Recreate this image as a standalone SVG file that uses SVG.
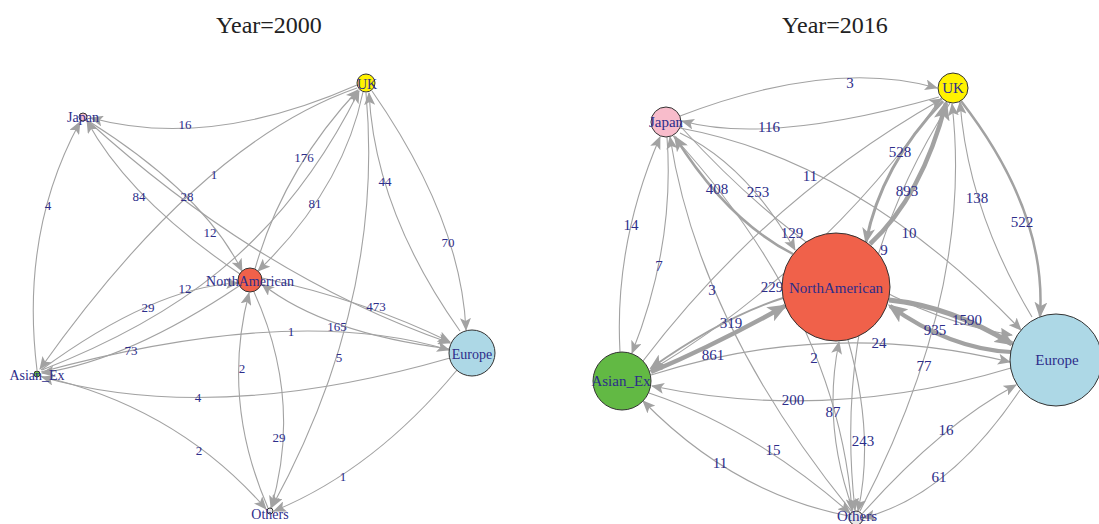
<svg xmlns="http://www.w3.org/2000/svg" width="1099" height="524" viewBox="0 0 1099 524">
<defs>
<style>
.e{fill:none;stroke:#a2a2a2;stroke-width:1.1}
.t1{marker-end:url(#m1)}
.t2{marker-end:url(#m2)}
.t3{marker-end:url(#m3)}
.n{stroke:#333;stroke-width:1}
.title{font-family:"Liberation Serif",serif;font-size:24px;fill:#222;text-anchor:middle}
.l{font-family:"Liberation Serif",serif;font-size:13px;fill:#2d2d8a;text-anchor:middle;dominant-baseline:central}
.r{font-family:"Liberation Serif",serif;font-size:15px;fill:#2d2d8a;text-anchor:middle;dominant-baseline:central}
.nl{font-family:"Liberation Serif",serif;font-size:14px;fill:#2d2d8a;text-anchor:middle;dominant-baseline:central}
.nr{font-family:"Liberation Serif",serif;font-size:15px;fill:#2d2d8a;text-anchor:middle;dominant-baseline:central}
</style>
<marker id="m1" markerUnits="userSpaceOnUse" markerWidth="13" markerHeight="11" refX="12" refY="5.5" orient="auto"><path d="M0,0 L13,5.5 L0,11 L3,5.5 z" fill="#a2a2a2"/></marker>
<marker id="m2" markerUnits="userSpaceOnUse" markerWidth="16" markerHeight="13" refX="14" refY="6.5" orient="auto"><path d="M0,0 L16,6.5 L0,13 L4,6.5 z" fill="#a2a2a2"/></marker>
<marker id="m3" markerUnits="userSpaceOnUse" markerWidth="20" markerHeight="16" refX="17" refY="8" orient="auto"><path d="M0,0 L20,8 L0,16 L4.5,8 z" fill="#a2a2a2"/></marker>
</defs>
<rect width="1099" height="524" fill="#fff"/>
<text class="title" x="269" y="33">Year=2000</text>
<text class="title" x="835" y="33">Year=2016</text>

<g id="connectors-2000">
<path class="e t1" d="M357,85 Q210,150 91,118"/>
<path class="e t1" d="M37,370 Q20,232 80,122"/>
<path class="e t1" d="M240,274 Q130,200 87,121"/>
<path class="e t1" d="M90,122 Q204,194 242,271"/>
<path class="e t1" d="M88,121 Q260,277 450,343"/>
<path class="e t1" d="M262,278 Q364,300 450,342"/>
<path class="e t1" d="M450,349 Q324,333 262,284"/>
<path class="e t1" d="M41,372 Q295,303 449,350"/>
<path class="e t1" d="M450,358 Q214,426 42,377"/>
<path class="e t1" d="M41,370 Q154,287 238,283"/>
<path class="e t1" d="M239,286 Q129,360 42,373"/>
<path class="e t1" d="M42,370 C170,320 280,250 359,91"/>
<path class="e t1" d="M357,88 Q201,142 40,369"/>
<path class="e t1" d="M255,269 Q283,170 358,90"/>
<path class="e t1" d="M363,92 Q343,189 258,271"/>
<path class="e t1" d="M460,331 Q375,211 369,93"/>
<path class="e t1" d="M372,91 Q461,219 466,330"/>
<path class="e t1" d="M366,93 Q385,300 272,507"/>
<path class="e t1" d="M268,508 Q221,400 249,293"/>
<path class="e t1" d="M254,292 Q303,400 271,508"/>
<path class="e t1" d="M40,376 Q177,407 266,509"/>
<path class="e t1" d="M457,370 Q374,470 274,511"/>
<text class="l" x="185" y="124">16</text>
<text class="l" x="48" y="205">4</text>
<text class="l" x="139" y="196">84</text>
<text class="l" x="187" y="196">28</text>
<text class="l" x="210" y="232">12</text>
<text class="l" x="376" y="306">473</text>
<text class="l" x="337" y="326">165</text>
<text class="l" x="291" y="331">1</text>
<text class="l" x="198" y="397">4</text>
<text class="l" x="148" y="307">29</text>
<text class="l" x="131" y="350">73</text>
<text class="l" x="185" y="288">12</text>
<text class="l" x="214" y="174">1</text>
<text class="l" x="304" y="157">176</text>
<text class="l" x="315" y="203">81</text>
<text class="l" x="385" y="181">44</text>
<text class="l" x="448" y="242">70</text>
<text class="l" x="339" y="357">5</text>
<text class="l" x="242" y="368">2</text>
<text class="l" x="279" y="437">29</text>
<text class="l" x="199" y="450">2</text>
<text class="l" x="343" y="476">1</text>
</g>

<g id="node-japan-2000"><circle class="n" cx="83" cy="117" r="4" fill="#f8bccb"/><text class="nl" x="83" y="117">Japan</text></g>
<g id="node-uk-2000"><circle class="n" cx="366" cy="83" r="9" fill="#fff200"/><text class="nl" x="367" y="84">UK</text></g>
<g id="node-na-2000"><circle class="n" cx="250" cy="280" r="12" fill="#f0614a"/><text class="nl" x="250" y="281">NorthAmerican</text></g>
<g id="node-asian-2000"><circle class="n" cx="37" cy="374" r="3" fill="#62b944"/><text class="nl" x="37" y="375">Asian_Ex</text></g>
<g id="node-europe-2000"><circle class="n" cx="472" cy="353" r="23" fill="#add8e6"/><text class="nl" x="472" y="354">Europe</text></g>
<g id="node-others-2000"><circle class="n" cx="270" cy="511" r="3" fill="#e6e6e6"/><text class="nl" x="270" y="514">Others</text></g>

<g id="connectors-2016">
<path class="e t1" d="M680,116 Q831,58 937,88"/>
<path class="e t1" d="M939,97 Q769,145 682,121"/>
<path class="e t1" d="M643,361 Q767,198 942,99"/>
<path class="e t1" d="M941,98 Q825,265 650,371"/>
<path class="e t1" d="M680,128 Q859,161 1021,330"/>
<path class="e t2" style="stroke-width:3" d="M943,101 Q881,165 866,242"/>
<path class="e t3" style="stroke-width:4.5" d="M870,244 Q922,196 946,103"/>
<path class="e t1" d="M950,103 Q830,290 855,510"/>
<path class="e t2" style="stroke-width:2.5" d="M961,101 Q1047,212 1040,316"/>
<path class="e t1" d="M1032,317 Q968,210 960,102"/>
<path class="e t1" d="M860,511 Q974,292 952,104"/>
<path class="e t3" style="stroke-width:5" d="M889,300 Q950,306 1012,344"/>
<path class="e t3" style="stroke-width:4" d="M1011,352 Q950,349 890,306"/>
<path class="e t1" d="M651,375 Q830,318 1010,362"/>
<path class="e t1" d="M1011,368 Q829,423 652,386"/>
<path class="e t1" d="M862,514 Q941,425 1016,385"/>
<path class="e t1" d="M1020,390 Q949,496 863,518"/>
<path class="e t1" d="M673,136 Q838,317 852,511"/>
<path class="e t1" d="M853,510 Q822,425 839,342"/>
<path class="e t1" d="M848,340 Q875,435 858,511"/>
<path class="e t1" d="M649,393 Q751,427 850,513"/>
<path class="e t1" d="M849,516 Q734,494 643,401"/>
<path class="e t1" d="M852,512 Q699,324 670,137"/>
<path class="e t1" d="M620,352 Q614,244 660,137"/>
<path class="e t1" d="M667,137 Q675,245 632,353"/>
<path class="e t2" style="stroke-width:2.5" d="M793,254 Q728,221 675,137"/>
<path class="e t1" d="M680,133 Q747,165 795,250"/>
<path class="e t1" d="M681,127 Q847,309 1012,335"/>
<path class="e t3" style="stroke-width:4.5" d="M651,372 Q715,345 785,306"/>
<path class="e t2" style="stroke-width:2" d="M783,298 Q723,317 651,368"/>
<text class="r" x="850" y="83">3</text>
<text class="r" x="769" y="127">116</text>
<text class="r" x="810" y="176">11</text>
<text class="r" x="772" y="287">229</text>
<text class="r" x="909" y="233">10</text>
<text class="r" x="900" y="152">528</text>
<text class="r" x="907" y="191">893</text>
<text class="r" x="884" y="250">9</text>
<text class="r" x="1022" y="222">522</text>
<text class="r" x="977" y="198">138</text>
<text class="r" x="924" y="366">77</text>
<text class="r" x="967" y="320">1590</text>
<text class="r" x="935" y="330">935</text>
<text class="r" x="879" y="343">24</text>
<text class="r" x="793" y="400">200</text>
<text class="r" x="946" y="430">16</text>
<text class="r" x="939" y="477">61</text>
<text class="r" x="814" y="358">2</text>
<text class="r" x="833" y="412">87</text>
<text class="r" x="863" y="441">243</text>
<text class="r" x="773" y="450">15</text>
<text class="r" x="720" y="463">11</text>
<text class="r" x="712" y="290">3</text>
<text class="r" x="631" y="225">14</text>
<text class="r" x="659" y="266">7</text>
<text class="r" x="717" y="189">408</text>
<text class="r" x="758" y="192">253</text>
<text class="r" x="792" y="233">129</text>
<text class="r" x="713" y="355">861</text>
<text class="r" x="731" y="323">319</text>
</g>

<g id="node-japan-2016"><circle class="n" cx="666" cy="122" r="15" fill="#f8bccb"/><text class="nr" x="666" y="122">Japan</text></g>
<g id="node-uk-2016"><circle class="n" cx="953" cy="88" r="15" fill="#fff200"/><text class="nr" x="953" y="88">UK</text></g>
<g id="node-na-2016"><circle class="n" cx="836" cy="287" r="54" fill="#f0614a"/><text class="nr" x="836" y="288">NorthAmerican</text></g>
<g id="node-asian-2016"><circle class="n" cx="622" cy="381" r="29" fill="#62b944"/><text class="nr" x="621" y="381">Asian_Ex</text></g>
<g id="node-europe-2016"><circle class="n" cx="1056" cy="360" r="46" fill="#add8e6"/><text class="nr" x="1057" y="360">Europe</text></g>
<g id="node-others-2016"><circle class="n" cx="856" cy="518" r="7" fill="#e6e6e6"/><text class="nr" x="857" y="516">Others</text></g>
</svg>
